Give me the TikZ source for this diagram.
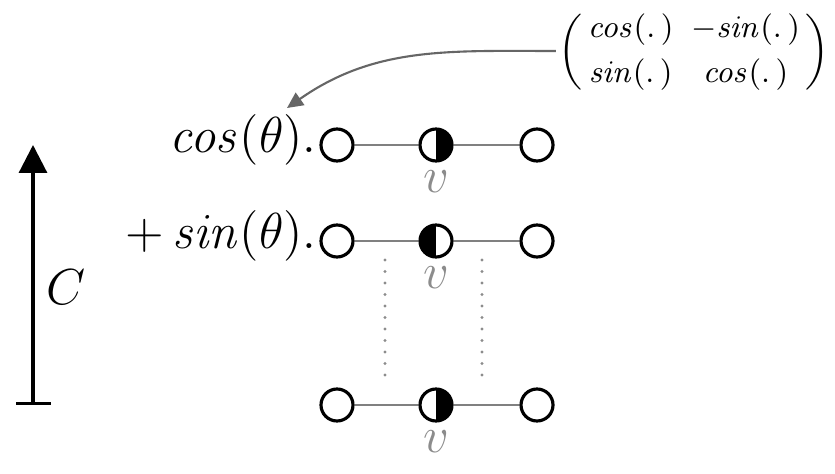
\documentclass[tikz,border=0pt]{standalone}
\usepackage{amsmath}
\usetikzlibrary{arrows.meta, positioning, calc}
\tikzset{
  circnode/.style={
    circle,
    draw=black,
    fill=white,
    line width=0.9pt,
    minimum size=3.2mm,
    inner sep=0pt,
  },
  halfright/.style={
    circnode,
    path picture={\fill[black] (path picture bounding box.north) rectangle (path picture bounding box.south east);},
  },
  halfleft/.style={
    circnode,
    path picture={\fill[black] (path picture bounding box.south west) rectangle (path picture bounding box.north);},
  },
  edgeln/.style={draw=black!50, line width=0.8pt},
  dotln/.style={draw=black!45, line width=0.9pt, line cap=round, dash pattern=on 0pt off 1.15mm},
  vlab/.style={font=\fontsize{14.5}{17}\selectfont, text=black!45, inner sep=0pt},
  rowlab/.style={font=\fontsize{14.5}{17}\selectfont, inner sep=0pt},
  carr/.style={{Bar[width=3.5mm]}-{Triangle[width=2.8mm, length=2.8mm]}, line width=0.9pt},
  curvarr/.style={-{Triangle[width=1.5mm, length=1.6mm]}, draw=black!60, line width=0.6pt},
}

\begin{document}
\begin{tikzpicture}[x=1cm, y=1cm]
\useasboundingbox (0,0) rectangle (8.35,4.74);

% --- first row ---
\node[circnode] (l1) at (3.37, 3.29) {};
\node[halfright] (m1) at (4.36, 3.29) {};
\node[circnode] (r1) at (5.37, 3.29) {};
\node[vlab, below=0.07 of m1] (v1) {$v$};
\node[rowlab, anchor=mid east] (t1) at ([xshift=-0.02cm]l1.west) {$\mathit{cos}(\theta).$};

% --- second row ---
\node[circnode] (l2) at (3.37, 2.33) {};
\node[halfleft] (m2) at (4.36, 2.33) {};
\node[circnode] (r2) at (5.37, 2.33) {};
\node[vlab, below=0.07 of m2] (v2) {$v$};
\node[rowlab, anchor=mid east] (t2) at ([xshift=-0.02cm]l2.west) {$+\,\mathit{sin}(\theta).$};

% --- last row ---
\node[circnode] (l3) at (3.37, 0.69) {};
\node[halfright] (m3) at (4.36, 0.69) {};
\node[circnode] (r3) at (5.37, 0.69) {};
\node[vlab, below=0.07 of m3] (v3) {$v$};

% --- edges ---
\draw[edgeln] (l1) -- (m1);
\draw[edgeln] (m1) -- (r1);
\draw[edgeln] (l2) -- (m2);
\draw[edgeln] (m2) -- (r2);
\draw[edgeln] (l3) -- (m3);
\draw[edgeln] (m3) -- (r3);

% --- dotted guides ---
\coordinate (d1a) at (3.85, 2.14);
\coordinate (d1b) at (3.85, 0.98);
\coordinate (d2a) at (4.82, 2.14);
\coordinate (d2b) at (4.82, 0.98);
\draw[dotln] (d1a) -- (d1b);
\draw[dotln] (d2a) -- (d2b);

% --- C axis ---
\coordinate (cbot) at (0.33, 0.69);
\coordinate (ctop) at (0.33, 3.29);
\draw[carr] (cbot) -- (ctop);
\node[font=\fontsize{15}{18}\selectfont] (clab) at (0.66, 1.87) {$C$};

% --- rotation matrix ---
\node[font=\fontsize{9.5}{11.5}\selectfont, inner sep=0pt] (rot) at (6.94, 4.22)
  {\setlength{\arraycolsep}{2.5pt}$\biggl(\,\begin{matrix} \mathit{cos}(.\,) & -\mathit{sin}(.\,)\\[1.3pt] \mathit{sin}(.\,) & \mathit{cos}(.\,) \end{matrix}\,\biggr)$};
\coordinate (tip) at (2.87, 3.66);
\draw[curvarr] ([xshift=-0.02cm, yshift=0.01cm]rot.west) to[out=180, in=35] (tip);

\end{tikzpicture}
\end{document}
